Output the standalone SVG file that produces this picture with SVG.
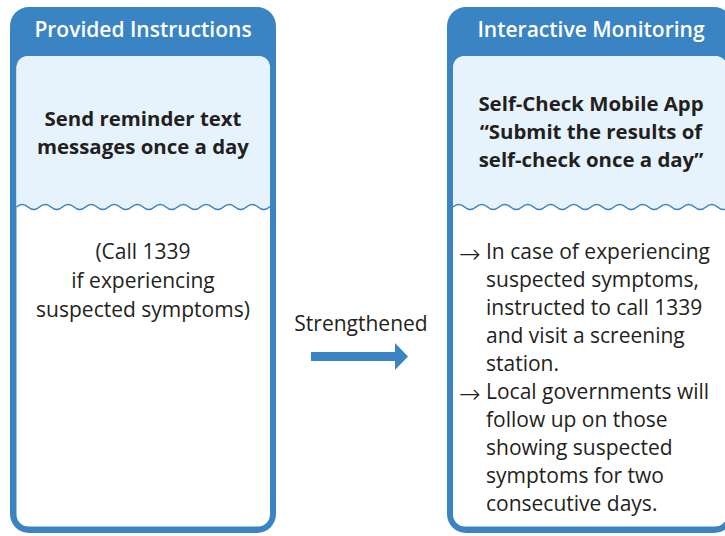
<svg xmlns="http://www.w3.org/2000/svg" width="725" height="536" viewBox="0 0 725 536">
<style>
.frame{fill:#3a84c3}
.inner{fill:#ffffff}
.top{fill:#e6f3fc}
.wave{fill:none;stroke:#3a84c3;stroke-width:1.6}
.hdr{font-family:"Open Sans","Noto Sans",sans-serif;font-weight:600;font-size:21px;fill:#ffffff;text-anchor:middle}
.bold{font-family:"Open Sans","Noto Sans",sans-serif;font-weight:700;font-size:20.4px;fill:#231f20;text-anchor:middle}
.reg{font-family:"Open Sans","Noto Sans",sans-serif;font-weight:400;font-size:21px;fill:#231f20}
.arr{font-family:"DejaVu Sans",sans-serif;font-weight:200;font-size:26px;fill:#231f20}
.mid{text-anchor:middle}
</style>
<rect width="725" height="536" fill="#ffffff"/>
<g id="provided-instructions">
<rect class="frame" x="10" y="7" width="266" height="526" rx="19"/>
<rect class="inner" x="16.5" y="56" width="253.5" height="470.5" rx="12"/>
<path class="top" d="M16.5,207 q5.75,-5 11.5,0 t11.5,0 t11.5,0 t11.5,0 t11.5,0 t11.5,0 t11.5,0 t11.5,0 t11.5,0 t11.5,0 t11.5,0 t11.5,0 t11.5,0 t11.5,0 t11.5,0 t11.5,0 t11.5,0 t11.5,0 t11.5,0 t11.5,0 t11.5,0 t11.5,0 L270,207 L270,69 Q270,56 257,56 L29.5,56 Q16.5,56 16.5,69 Z"/>
<path class="wave" d="M16.5,207 q5.75,-5 11.5,0 t11.5,0 t11.5,0 t11.5,0 t11.5,0 t11.5,0 t11.5,0 t11.5,0 t11.5,0 t11.5,0 t11.5,0 t11.5,0 t11.5,0 t11.5,0 t11.5,0 t11.5,0 t11.5,0 t11.5,0 t11.5,0 t11.5,0 t11.5,0 t11.5,0 L270,207"/>
<text class="hdr" x="143" y="37">Provided Instructions</text>
<text class="bold" x="143" y="126">Send reminder text</text>
<text class="bold" x="143" y="154">messages once a day</text>
<text class="reg mid" x="143" y="259">(Call 1339</text>
<text class="reg mid" x="143" y="288">if experiencing</text>
<text class="reg mid" x="143" y="317">suspected symptoms)</text>
</g>
<g id="interactive-monitoring">
<rect class="frame" x="447" y="7" width="286" height="526" rx="19"/>
<rect class="inner" x="453" y="56" width="274" height="470.5" rx="12"/>
<path class="top" d="M453,207 q5.75,-5 11.5,0 t11.5,0 t11.5,0 t11.5,0 t11.5,0 t11.5,0 t11.5,0 t11.5,0 t11.5,0 t11.5,0 t11.5,0 t11.5,0 t11.5,0 t11.5,0 t11.5,0 t11.5,0 t11.5,0 t11.5,0 t11.5,0 t11.5,0 t11.5,0 t11.5,0 t11.5,0 t11.5,0 L727,207 L727,69 Q727,56 714,56 L466,56 Q453,56 453,69 Z"/>
<path class="wave" d="M453,207 q5.75,-5 11.5,0 t11.5,0 t11.5,0 t11.5,0 t11.5,0 t11.5,0 t11.5,0 t11.5,0 t11.5,0 t11.5,0 t11.5,0 t11.5,0 t11.5,0 t11.5,0 t11.5,0 t11.5,0 t11.5,0 t11.5,0 t11.5,0 t11.5,0 t11.5,0 t11.5,0 t11.5,0 t11.5,0"/>
<text class="hdr" x="591" y="37">Interactive Monitoring</text>
<text class="bold" x="591" y="111">Self-Check Mobile App</text>
<text class="bold" x="591" y="139">“Submit the results of</text>
<text class="bold" x="591" y="167">self-check once a day”</text>
<text class="arr" x="459" y="263">→</text>
<text class="reg" x="486" y="259">In case of experiencing</text>
<text class="reg" x="486" y="287">suspected symptoms,</text>
<text class="reg" x="486" y="315">instructed to call 1339</text>
<text class="reg" x="486" y="343">and visit a screening</text>
<text class="reg" x="486" y="371">station.</text>
<text class="arr" x="459" y="403">→</text>
<text class="reg" x="486" y="399">Local governments will</text>
<text class="reg" x="486" y="427">follow up on those</text>
<text class="reg" x="486" y="455">showing suspected</text>
<text class="reg" x="486" y="483">symptoms for two</text>
<text class="reg" x="486" y="511">consecutive days.</text>
</g>
<g id="connectors">
<text class="reg mid" x="361" y="331">Strengthened</text>
<polygon class="frame" points="311,352 395,352 395,343 408,356.5 395,370 395,361 311,361"/>
</g>
</svg>
